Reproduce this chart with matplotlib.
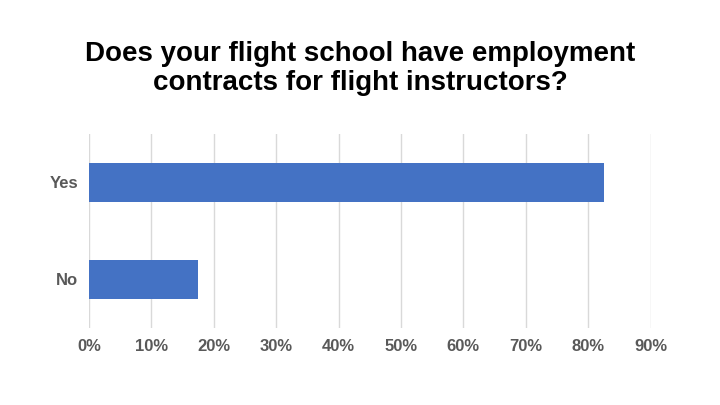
import matplotlib.pyplot as plt
from matplotlib.ticker import PercentFormatter

categories = ["No", "Yes"]
values = [0.175, 0.825]
xticks = [0, 0.1, 0.2, 0.3, 0.4, 0.5, 0.6, 0.7, 0.8, 0.9]

plt.rcParams["font.family"] = "Liberation Sans"

fig = plt.figure(figsize=(7.2, 4.05), dpi=100)
ax = fig.add_axes([0.1236, 0.19, 0.78, 0.48])
ax.barh(categories, values, height=0.4, color="#4472C4", zorder=3)
ax.set_xlim(0, 0.9)
ax.set_ylim(-0.5, 1.5)
ax.set_xticks(xticks)
ax.xaxis.set_major_formatter(PercentFormatter(1.0, decimals=0))
ax.grid(axis="x", color="#D9D9D9", linewidth=1, zorder=0)
for s in ax.spines.values():
    s.set_visible(False)
ax.tick_params(length=0, labelsize=12, labelcolor="#595959", pad=8)
for lab in ax.get_xticklabels() + ax.get_yticklabels():
    lab.set_fontweight("bold")

fig.text(0.5, 0.83, "Does your flight school have employment\ncontracts for flight instructors?",
         ha="center", va="center", fontsize=20, fontweight="bold", linespacing=1.15)

fig.savefig("out.png", dpi=100)
